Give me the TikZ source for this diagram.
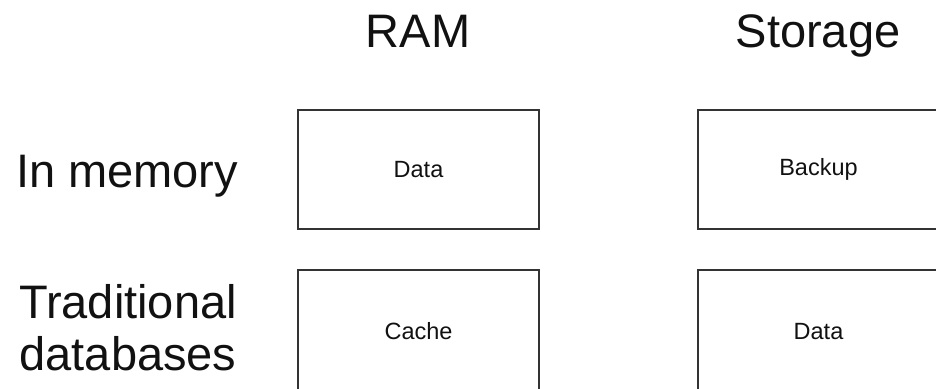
\documentclass[tikz,border=0pt]{standalone}
\usepackage{fontspec}
\setmainfont{Liberation Sans}
\definecolor{linec}{HTML}{333333}
\definecolor{textc}{HTML}{111111}
\begin{document}
\begin{tikzpicture}[x=1pt,y=-1pt,
  head/.style={inner sep=0pt,anchor=base,font=\fontsize{47}{52}\selectfont,text=textc},
  cell/.style={draw=linec,line width=1.8pt,minimum width=241pt,minimum height=119pt,inner sep=0pt,font=\fontsize{23.5}{26}\selectfont,text=textc},
  lowcell/.style={cell,minimum height=125pt}]
\useasboundingbox (0,0) rectangle (936,388);
\clip (0,0) rectangle (936,388);
\node[head] (ram) at (418,47) {RAM};
\node[head] (storage) at (818,47) {Storage};
\node[head] (inmem) at (127,187) {In memory};
\node[head] (trad) at (128,318) {Traditional};
\node[head] (dbs) at (128,370) {databases};
\node[cell] (ramdata) at (418.5,169.5) {Data};
\node[cell] (backup) at (818.5,169.5) {Backup};
\node[lowcell] (cache) at (418.5,332.5) {\raisebox{3pt}{Cache}};
\node[lowcell] (stdata) at (818.5,332.5) {\raisebox{3pt}{Data}};
\end{tikzpicture}
\end{document}
